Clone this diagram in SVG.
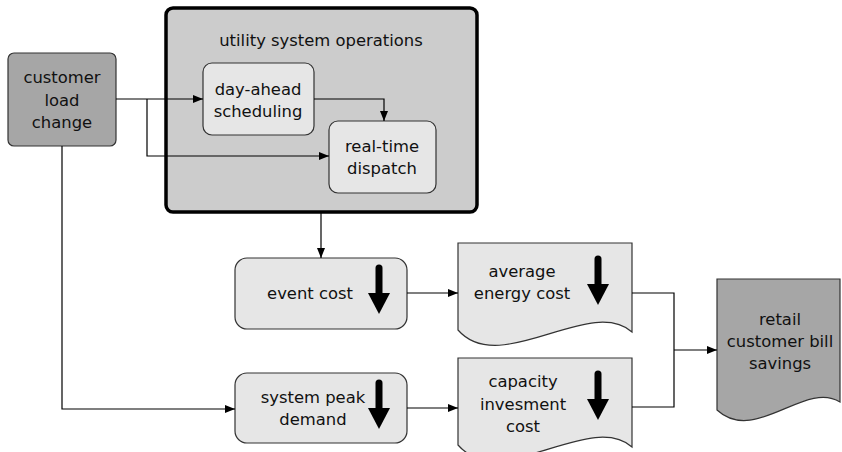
<svg xmlns="http://www.w3.org/2000/svg" xmlns:xlink="http://www.w3.org/1999/xlink" width="842" height="452" viewBox="0 0 842 452">
<style>
text{font-family:"DejaVu Sans","Liberation Sans",sans-serif;font-size:16.4px;fill:#111;text-anchor:middle}
.dark{fill:#a6a6a6;stroke:#333;stroke-width:1.2}
.light{fill:#e6e6e6;stroke:#333;stroke-width:1.2}
.outer{fill:#cccccc;stroke:#000;stroke-width:3.5}
.conn path{fill:none;stroke:#000;stroke-width:1.2}
</style>
<defs>
<marker id="ah" viewBox="0 0 10 8" refX="10" refY="4" markerWidth="10" markerHeight="8" markerUnits="userSpaceOnUse" orient="auto">
<path d="M0,0 L10,4 L0,8 Z" fill="#000"/>
</marker>
<g id="down">
<line x1="0" y1="0" x2="0" y2="27" stroke="#000" stroke-width="7" stroke-linecap="round"/>
<path d="M-11,25 L11,25 L0,46 Z" fill="#000"/>
</g>
</defs>
<g id="utility">
<rect class="outer" x="166" y="8" width="311" height="204" rx="7"/>
<text x="321" y="46">utility system operations</text>
</g>
<g id="customer">
<rect class="dark" x="8" y="53" width="108" height="93" rx="6"/>
<text x="62" y="83">customer</text>
<text x="62" y="106">load</text>
<text x="62" y="128">change</text>
</g>
<g id="dayahead">
<rect class="light" x="203" y="63" width="111" height="72" rx="9"/>
<text x="258" y="95">day-ahead</text>
<text x="258" y="117">scheduling</text>
</g>
<g id="realtime">
<rect class="light" x="329" y="121" width="107" height="72" rx="9"/>
<text x="382" y="152">real-time</text>
<text x="382" y="174">dispatch</text>
</g>
<g id="eventcost">
<rect class="light" x="235" y="258" width="172" height="71" rx="12"/>
<text x="310" y="299">event cost</text>
<use xlink:href="#down" x="379" y="268"/>
</g>
<g id="avgenergy">
<path class="light" d="M458,243 H632 V332 C590,295 500,378 458,330 Z"/>
<text x="522" y="277">average</text>
<text x="522" y="299">energy cost</text>
<use xlink:href="#down" x="598" y="259"/>
</g>
<g id="syspeak">
<rect class="light" x="235" y="373" width="172" height="70" rx="12"/>
<text x="313" y="403">system peak</text>
<text x="313" y="425">demand</text>
<use xlink:href="#down" x="379" y="383"/>
</g>
<g id="capacity">
<path class="light" d="M458,358 H632 V447 C590,410 500,493 458,445 Z"/>
<text x="523" y="387">capacity</text>
<text x="523" y="410">invesment</text>
<text x="523" y="432">cost</text>
<use xlink:href="#down" x="598" y="374"/>
</g>
<g id="retail">
<path class="dark" d="M717,279 H840 V402 C805,380 755,445 717,410 Z"/>
<text x="780" y="325">retail</text>
<text x="780" y="347">customer bill</text>
<text x="780" y="369">savings</text>
</g>
<g class="conn" id="connectors">
<path d="M116,99 H203" marker-end="url(#ah)"/>
<path d="M147,99 V156 H329" marker-end="url(#ah)"/>
<path d="M314,99 H384 V121" marker-end="url(#ah)"/>
<path d="M62,146 V409 H235" marker-end="url(#ah)"/>
<path d="M321,212 V258" marker-end="url(#ah)"/>
<path d="M407,293 H458" marker-end="url(#ah)"/>
<path d="M407,408 H458" marker-end="url(#ah)"/>
<path d="M632,293 H674 V407 H632"/>
<path d="M674,350 H717" marker-end="url(#ah)"/>
</g>
</svg>
